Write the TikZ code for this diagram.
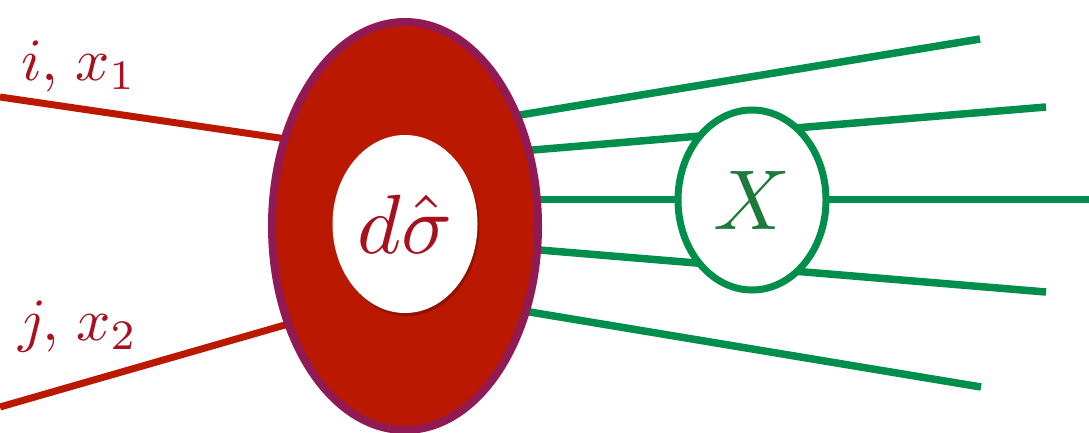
\documentclass[tikz,border=0pt]{standalone}
\usepackage{graphicx}
\usetikzlibrary{shapes.geometric,shadows,backgrounds}
\definecolor{blobred}{RGB}{186,24,0}
\definecolor{blobrim}{RGB}{145,26,84}
\definecolor{txtred}{RGB}{168,16,30}
\definecolor{lgreen}{RGB}{0,142,76}
\definecolor{xgreen}{RGB}{30,122,60}
\tikzset{
  softshadow/.style={drop shadow={shadow xshift=2pt,shadow yshift=-3pt,opacity=0.22,fill=black}},
  blob/.style={ellipse,inner sep=0pt,minimum width=266pt,minimum height=408pt,
    fill=blobred,draw=blobrim,line width=8pt,softshadow},
  core/.style={ellipse,inner sep=0pt,minimum width=145pt,minimum height=178pt,
    fill=white,softshadow,text=txtred},
  xbox/.style={ellipse,inner sep=0pt,minimum width=148pt,minimum height=180pt,
    fill=white,draw=lgreen,line width=7pt,softshadow,text=xgreen},
  redline/.style={draw=blobred,line width=7pt},
  greenline/.style={draw=lgreen,line width=7.5pt},
  lab/.style={text=txtred,anchor=base west,inner sep=0pt}
}
\begin{document}
\begin{tikzpicture}[x=1pt,y=-1pt]
\useasboundingbox (0,0) rectangle (1089,432);
% nodes
\node[blob] (blob) at (405,226) {};
\node[core] (core) at (405,224) {\scalebox{8.4}{$d\hat\sigma$}};
\node[xbox] (X) at (752,200) {\scalebox{8.5}{$X$}};
\node[lab] (li) at (21,80) {\scalebox{6}{$i,\mkern2mu x_1$}};
\node[lab] (lj) at (18,340) {\scalebox{6}{$j,\mkern2mu x_2$}};
% line ends
\coordinate (i0) at (0,97);
\coordinate (i1) at (330,145.4);
\coordinate (j0) at (0,407);
\coordinate (j1) at (330,312);
\coordinate (g1a) at (460,124.9);
\coordinate (g1b) at (980,39);
\coordinate (g2a) at (460,156.1);
\coordinate (g2b) at (1046,107);
\coordinate (g3a) at (460,199.5);
\coordinate (g3b) at (1089,199.5);
\coordinate (g4a) at (460,243.4);
\coordinate (g4b) at (1046,292);
\coordinate (g5a) at (460,300.4);
\coordinate (g5b) at (981,387);
\begin{scope}[on background layer]
\draw[redline] (i0) -- (i1);
\draw[redline] (j0) -- (j1);
\draw[greenline] (g1a) -- (g1b);
\draw[greenline] (g2a) -- (g2b);
\draw[greenline] (g3a) -- (g3b);
\draw[greenline] (g4a) -- (g4b);
\draw[greenline] (g5a) -- (g5b);
\end{scope}
\end{tikzpicture}
\end{document}
